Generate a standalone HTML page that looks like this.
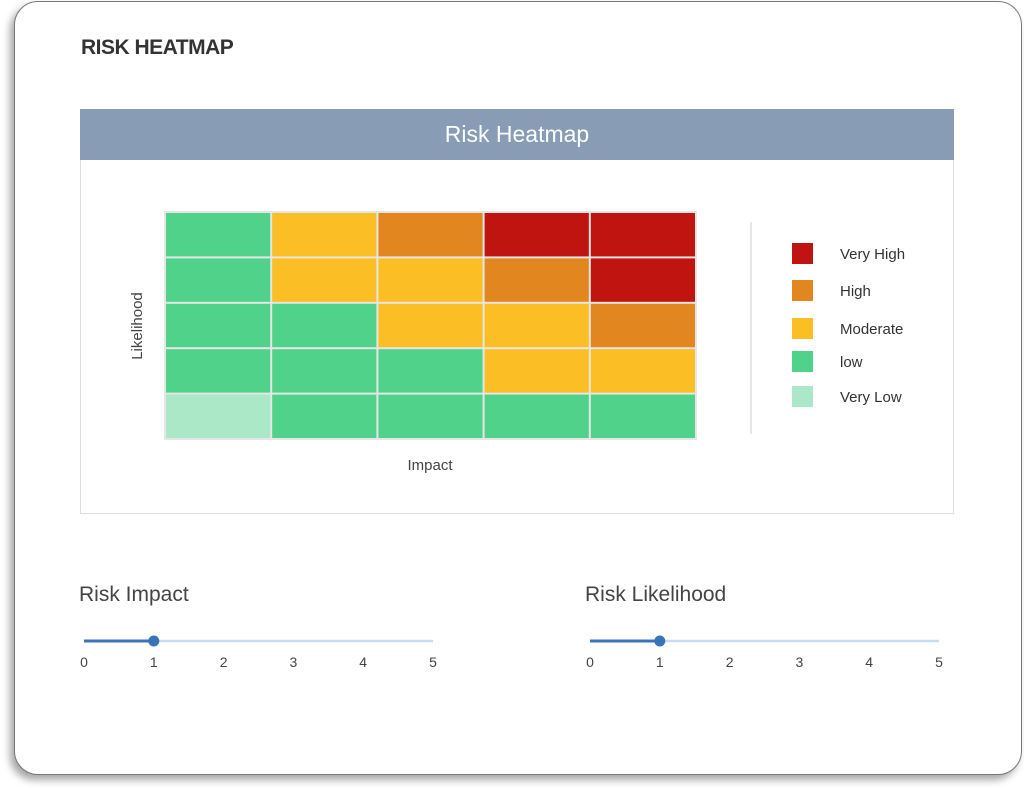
<!DOCTYPE html>
<html><head><meta charset="utf-8"><style>
body{margin:0;width:1024px;height:788px;background:#fff;font-family:"Liberation Sans",sans-serif;position:relative;overflow:hidden}
.card{position:absolute;left:14px;top:1px;width:1006px;height:772px;border:1.5px solid #777;border-radius:24px;box-shadow:-4px 5px 8px rgba(0,0,0,0.35);background:#fff}
.abs{position:absolute}
</style></head><body>
<div class="card"></div>
<div class="abs" style="left:81px;top:36px;font-size:21px;color:#333;font-weight:bold;letter-spacing:-0.5px">RISK HEATMAP</div>
<div class="abs" style="left:80px;top:109px;width:872px;height:403px;border:1px solid #ddd;background:#fff"></div>
<div class="abs" style="left:80px;top:109px;width:874px;height:51px;background:#889db5;color:#fff;font-size:23px;text-align:center;line-height:50px">Risk Heatmap</div>
<svg id="hm" class="abs" style="left:0;top:0" width="1024" height="788"></svg>
<div class="abs" style="left:79px;top:583px;font-size:21px;color:#444">Risk Impact</div>
<div class="abs" style="left:585px;top:583px;font-size:21px;color:#444">Risk Likelihood</div>
<script>
const levels=["Very High","High","Moderate","low","Very Low"];
const levelColors=["#bf140f","#e2871f","#fbbe25","#50d28b","#abe8c8"];
// rows top (likelihood 5) to bottom (1), columns impact 1..5; values index into levels
const grid=[
 [3,2,1,0,0],
 [3,2,2,1,0],
 [3,3,2,2,1],
 [3,3,3,2,2],
 [4,3,3,3,3]
];
const sliderTicks=[0,1,2,3,4,5];
const impactValue=1, likelihoodValue=1;
const NS="http://www.w3.org/2000/svg";
const svg=document.getElementById('hm');
function mk(t,a){const e=document.createElementNS(NS,t);for(const k in a)e.setAttribute(k,a[k]);svg.appendChild(e);return e;}
const gx0=165,gx1=696,gy0=212,gy1=439;
const nC=grid[0].length,nR=grid.length;
const cw=(gx1-gx0)/nC,ch=(gy1-gy0)/nR;
const xs=c=>gx0+c*cw, ys=r=>gy0+r*ch;
mk('rect',{x:gx0-1,y:gy0-1,width:gx1-gx0+2,height:gy1-gy0+2,fill:'#e6e6e6'});
grid.forEach((row,r)=>row.forEach((v,c)=>{
 const e=mk('rect',{x:xs(c)+1,y:ys(r)+1,width:cw-2,height:ch-2,fill:levelColors[v]});
 
 
}));
let t=mk('text',{x:430,y:470,'font-size':15,fill:'#444','text-anchor':'middle','font-family':'Liberation Sans'});t.textContent='Impact';

t=mk('text',{x:142,y:326,'font-size':15,fill:'#444','text-anchor':'middle','font-family':'Liberation Sans',transform:'rotate(-90 142 326)'});t.textContent='Likelihood';

mk('line',{x1:751,y1:222,x2:751,y2:434,stroke:'#ddd','stroke-width':1.5});
const legY=[243,280,318,351,386];
levels.forEach((l,i)=>{
 const s=mk('rect',{x:792,y:legY[i],width:21,height:21,fill:levelColors[i]});
 
 
 const tx=mk('text',{x:840,y:legY[i]+16,'font-size':15,fill:'#333','font-family':'Liberation Sans'});
 tx.textContent=l;
 
 
});
function slider(x0,x1,val,name){
 const sx=v=>x0+(x1-x0)*v/5;
 mk('line',{x1:x0,y1:641,x2:x1,y2:641,stroke:'#c5dcf3','stroke-width':2.5});
 mk('line',{x1:x0,y1:641,x2:sx(val),y2:641,stroke:'#3b73b9','stroke-width':3});
 const th=mk('circle',{cx:sx(val),cy:641,r:5.5,fill:'#3b73b9'});
 
 
 sliderTicks.forEach(v=>{
  const tt=mk('text',{x:sx(v),y:667,'font-size':14,fill:'#444','text-anchor':'middle','font-family':'Liberation Sans'});
  tt.textContent=v;
  
  
 });
}
slider(84,433,impactValue,'impact-slider');
slider(590,939,likelihoodValue,'likelihood-slider');
</script>
</body></html>
